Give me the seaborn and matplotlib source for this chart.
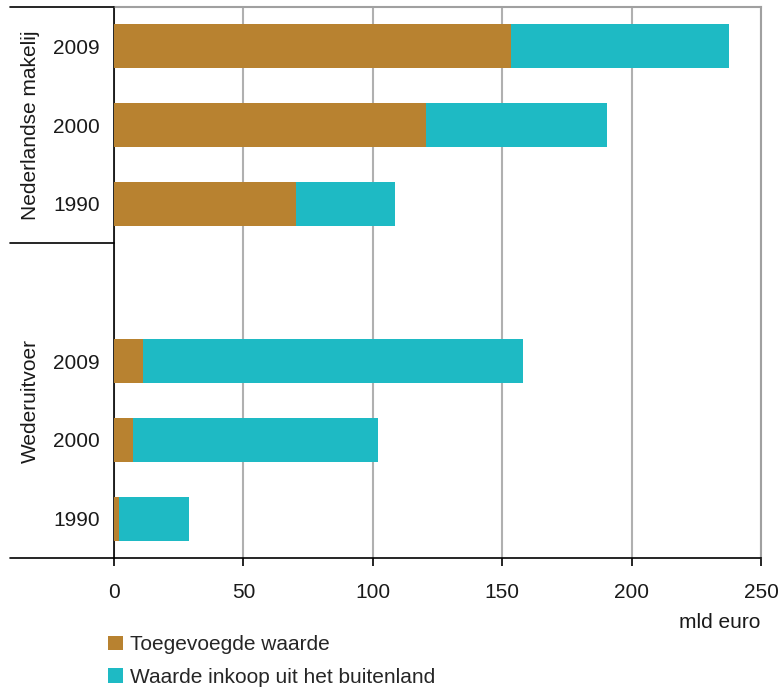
import pandas as pd
import matplotlib.pyplot as plt
import seaborn as sns
from matplotlib.lines import Line2D
from matplotlib.patches import Patch

# Data (mld euro)
groups = ['Nederlandse makelij'] * 3 + ['Wederuitvoer'] * 3
years = ['2009', '2000', '1990', '2009', '2000', '1990']
toegevoegd = [153.3, 120.6, 70.4, 11.3, 7.5, 1.9]
inkoop_buitenland = [84.4, 69.9, 38.0, 146.6, 94.7, 27.1]

brown = '#B88230'
teal = '#1EBAC4'

sns.set_style('white')
plt.rcParams['font.family'] = ['Liberation Sans', 'DejaVu Sans']

df = pd.DataFrame({'group': groups, 'year': years,
                   'toegevoegd': toegevoegd, 'inkoop': inkoop_buitenland})
df['key'] = [f'{g[:2]} {y}' for g, y in zip(df['group'], df['year'])]
df['total'] = df['toegevoegd'] + df['inkoop']

order = list(df['key'][:3]) + ['gap'] + list(df['key'][3:])
labels = list(df['year'][:3]) + [''] + list(df['year'][3:])

fig = plt.figure(figsize=(7.79, 6.88), dpi=100)
ax = fig.add_axes([114 / 779, 1 - 558 / 688, 647 / 779, 551 / 688])

# stacked bars: total in teal, value added in brown on top
sns.barplot(data=df, y='key', x='total', order=order, color=teal,
            width=0.56, saturation=1, orient='h', ax=ax, zorder=2,
            linewidth=0)
sns.barplot(data=df, y='key', x='toegevoegd', order=order, color=brown,
            width=0.56, saturation=1, orient='h', ax=ax, zorder=3,
            linewidth=0)

ax.set_xlim(0, 250)
ax.set_ylim(6.5, -0.5)
ax.set_xticks([0, 50, 100, 150, 200, 250])
ax.set_yticks(range(len(order)))
ax.set_yticklabels(labels)
ax.set_xlabel('')
ax.set_ylabel('')
ax.tick_params(axis='both', labelsize=15, colors='#1a1a1a')
ax.tick_params(axis='x', direction='out', length=6, width=1.2, color='black',
               pad=12, bottom=True)
ax.tick_params(axis='y', length=0, pad=10)

ax.grid(axis='x', color='#b0b0b0', linewidth=1.5, zorder=0)
ax.set_axisbelow(True)
for side in ['top', 'right']:
    ax.spines[side].set_color('#a0a0a0')
    ax.spines[side].set_linewidth(1.5)
ax.spines['left'].set_color('black')
ax.spines['left'].set_linewidth(1.2)
ax.spines['bottom'].set_color('black')
ax.spines['bottom'].set_linewidth(1.2)

# group brackets on the left
x0, x1 = 10 / 779, 114 / 779
for ypix in [7, 243, 558]:
    yf = 1 - ypix / 688
    fig.add_artist(Line2D([x0, x1], [yf, yf], color='black', linewidth=1.2))

fig.text(30 / 779, 1 - 125 / 688, 'Nederlandse makelij', rotation=90,
         ha='center', va='center', fontsize=15, color='#1a1a1a')
fig.text(30 / 779, 1 - 401 / 688, 'Wederuitvoer', rotation=90,
         ha='center', va='center', fontsize=15, color='#1a1a1a')

fig.text(760 / 779, 1 - 622 / 688, 'mld euro', ha='right', va='center',
         fontsize=15, color='#1a1a1a')

handles = [Patch(facecolor=brown, edgecolor='none'),
           Patch(facecolor=teal, edgecolor='none')]
fig.legend(handles, ['Toegevoegde waarde', 'Waarde inkoop uit het buitenland'],
           loc='upper left', bbox_to_anchor=(100 / 779, 1 - 627 / 688),
           frameon=False, fontsize=15, handlelength=0.7, handleheight=0.7,
           handletextpad=0.35, labelspacing=0.66, borderaxespad=0)

fig.savefig('out.png', dpi=100)
